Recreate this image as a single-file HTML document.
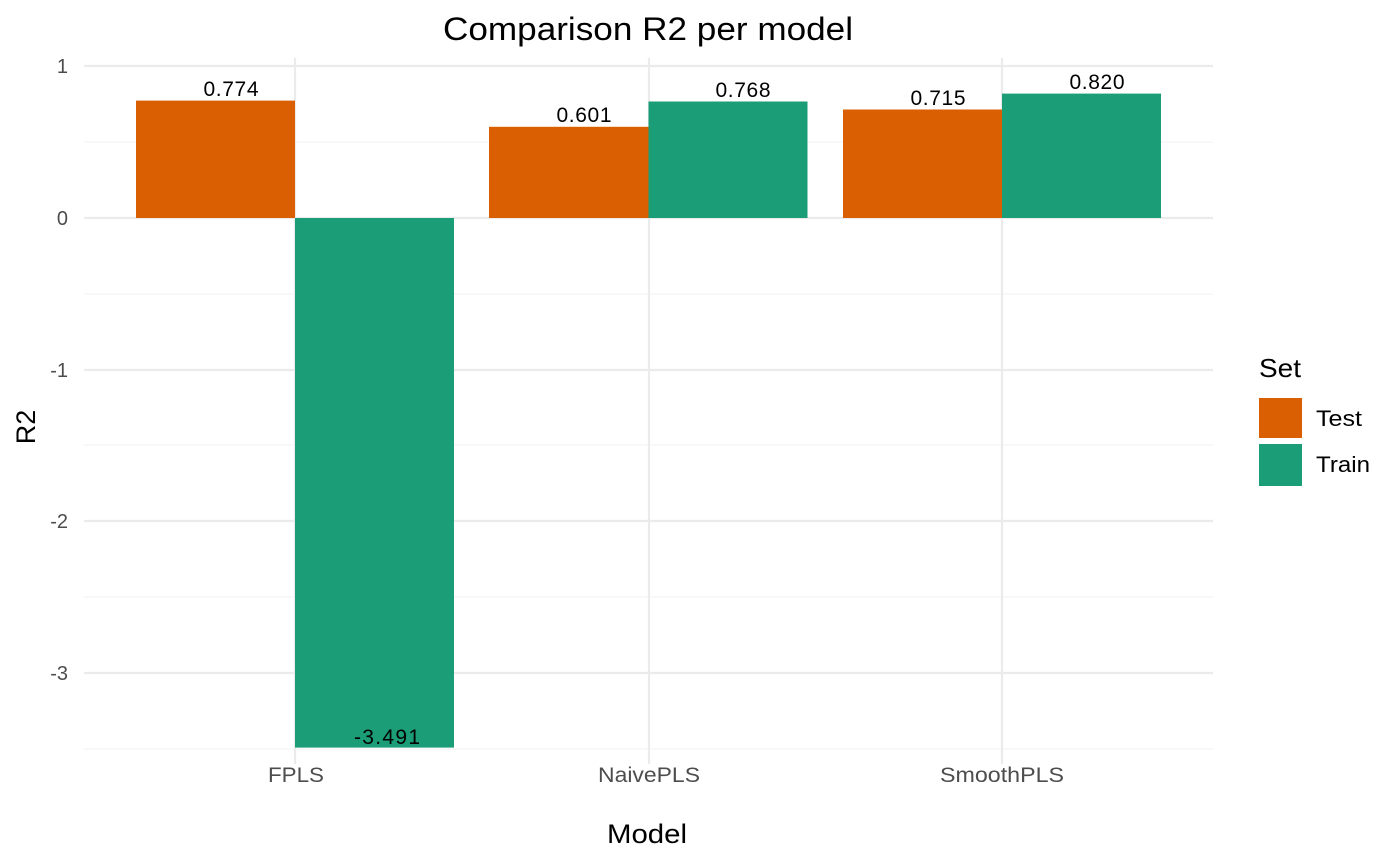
<!DOCTYPE html>
<html><head><meta charset="utf-8"><style>body{margin:0;background:#fff}svg{display:block}text{font-family:"Liberation Sans",Arial,sans-serif}</style></head><body>
<svg width="1400" height="865" xmlns="http://www.w3.org/2000/svg">
<rect width="1400" height="865" fill="#fff"/>
<g stroke="#F2F2F2" stroke-width="1.1">
<line x1="84" x2="1213" y1="142" y2="142"/><line x1="84" x2="1213" y1="294" y2="294"/><line x1="84" x2="1213" y1="445" y2="445"/><line x1="84" x2="1213" y1="597" y2="597"/><line x1="84" x2="1213" y1="749" y2="749"/>
</g>
<g stroke="#EBEBEB" stroke-width="2.2">
<line x1="84" x2="1213" y1="66" y2="66"/><line x1="84" x2="1213" y1="218" y2="218"/><line x1="84" x2="1213" y1="370" y2="370"/><line x1="84" x2="1213" y1="521" y2="521"/><line x1="84" x2="1213" y1="673" y2="673"/>
<line x1="295" x2="295" y1="58" y2="764"/><line x1="649" x2="649" y1="58" y2="764"/><line x1="1002" x2="1002" y1="58" y2="764"/>
</g>
<rect x="136" y="100.6" width="159" height="117.4" fill="#D95F02"/>
<rect x="295" y="218" width="159" height="529.6" fill="#1B9E77"/>
<rect x="489" y="126.8" width="159.5" height="91.2" fill="#D95F02"/>
<rect x="648.5" y="101.5" width="159" height="116.5" fill="#1B9E77"/>
<rect x="843" y="109.5" width="159" height="108.5" fill="#D95F02"/>
<rect x="1002" y="93.6" width="159" height="124.4" fill="#1B9E77"/>
<g font-size="21" fill="#000" text-anchor="middle" lengthAdjust="spacingAndGlyphs">
<text x="231" y="96" textLength="55">0.774</text><text x="387" y="744" textLength="66">-3.491</text>
<text x="584" y="122" textLength="55">0.601</text><text x="743" y="97" textLength="55">0.768</text>
<text x="938" y="105" textLength="55">0.715</text><text x="1097" y="89" textLength="55">0.820</text>
</g>
<g font-size="20" fill="#4D4D4D" text-anchor="end">
<text x="68" y="73">1</text><text x="68" y="225">0</text><text x="68" y="377">-1</text><text x="68" y="528">-2</text><text x="68" y="680">-3</text>
</g>
<g font-size="21" fill="#4D4D4D" text-anchor="middle">
<text x="296" y="782" textLength="56" lengthAdjust="spacingAndGlyphs">FPLS</text>
<text x="649" y="782" textLength="102" lengthAdjust="spacingAndGlyphs">NaivePLS</text>
<text x="1002" y="782" textLength="124" lengthAdjust="spacingAndGlyphs">SmoothPLS</text>
</g>
<text x="647" y="843" font-size="27" text-anchor="middle" textLength="80" lengthAdjust="spacingAndGlyphs">Model</text>
<text transform="translate(35,427) rotate(-90)" font-size="27" text-anchor="middle">R2</text>
<text x="648" y="40" font-size="32" text-anchor="middle" textLength="410" lengthAdjust="spacingAndGlyphs">Comparison R2 per model</text>
<text x="1259" y="377" font-size="26" textLength="42" lengthAdjust="spacingAndGlyphs">Set</text>
<rect x="1259" y="398" width="43" height="40" fill="#D95F02"/>
<rect x="1259" y="444" width="43" height="42" fill="#1B9E77"/>
<text x="1316" y="426" font-size="22" textLength="46" lengthAdjust="spacingAndGlyphs">Test</text>
<text x="1316" y="472" font-size="22" textLength="54" lengthAdjust="spacingAndGlyphs">Train</text>
</svg>
</body></html>
